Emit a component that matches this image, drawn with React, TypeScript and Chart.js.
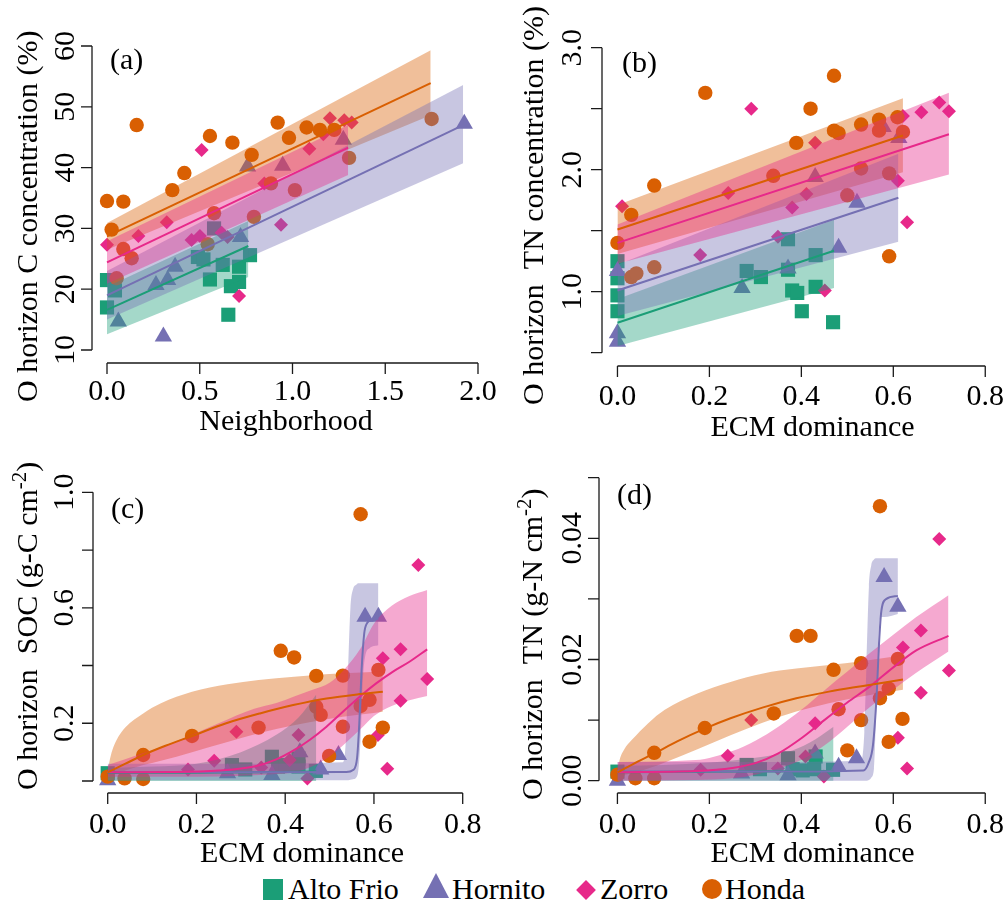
import React, { useEffect, useRef } from 'react';
import { Chart, registerables } from 'chart.js';

Chart.register(...registerables);

type Pt = [number, number];
type Bd = [number, number, number];

// ---------- sites ----------
const SITE_NAMES = ['Alto Frio', 'Hornito', 'Zorro', 'Honda'];
const SITE_COLORS = ['#1B9E77', '#7570B3', '#E7298A', '#D95F02'];
const SITE_FILLS = ['rgba(27,158,119,0.4)', 'rgba(117,112,179,0.4)', 'rgba(231,41,138,0.4)', 'rgba(217,95,2,0.4)'];
const SITE_SHAPES = ['rect', 'triangle', 'rectRot', 'circle'];
const SITE_RADII = [10, 10, 7, 7.2];

// ---------- panel (a): C concentration vs Neighborhood ----------
const aAltoFrio: Pt[] = [[0.0, 17.0], [0.0, 21.5], [0.043, 19.8], [0.49, 25.3], [0.52, 24.9], [0.555, 21.6], [0.577, 30.0], [0.624, 24.0], [0.654, 15.8], [0.668, 20.5], [0.712, 23.7], [0.712, 21.2], [0.771, 25.6]];
const aHornito: Pt[] = [[0.061, 14.7], [0.264, 20.7], [0.304, 12.2], [0.327, 21.5], [0.367, 23.7], [0.72, 28.6], [0.758, 40.2], [0.947, 40.3], [1.274, 44.6], [1.926, 47.2]];
const aZorro: Pt[] = [[0.0, 27.3], [0.169, 28.75], [0.322, 31.0], [0.456, 28.1], [0.501, 28.75], [0.51, 42.9], [0.618, 29.3], [0.65, 28.6], [0.712, 18.9], [0.848, 37.4], [0.938, 30.6], [1.091, 43.1], [1.166, 45.5], [1.202, 48.1], [1.279, 47.8], [1.319, 47.4]];
const aHonda: Pt[] = [[0.0, 34.5], [0.025, 29.8], [0.052, 21.8], [0.088, 34.4], [0.088, 26.6], [0.133, 25.1], [0.16, 47.0], [0.352, 36.3], [0.417, 39.1], [0.543, 27.4], [0.555, 45.2], [0.577, 32.5], [0.676, 44.1], [0.78, 42.1], [0.792, 31.9], [0.884, 37.4], [0.92, 47.4], [0.981, 44.9], [1.013, 36.3], [1.076, 46.6], [1.148, 46.2], [1.225, 46.2], [1.305, 41.6], [1.75, 48.0]];
const aFitAltoFrio: Pt[] = [[0, 16.6], [0.762, 27.1]];
const aFitHornito: Pt[] = [[0, 19.0], [1.92, 47.0]];
const aFitZorro: Pt[] = [[0, 24.4], [1.3, 43.3]];
const aFitHonda: Pt[] = [[0, 28.7], [1.745, 53.9]];
const aBandAltoFrio: Bd[] = [[0, 12.6, 20.4], [0.762, 22.0, 31.2]];
const aBandHornito: Bd[] = [[0, 15.0, 23.0], [1.92, 40.7, 53.6]];
const aBandZorro: Bd[] = [[0, 20.9, 27.9], [1.3, 38.8, 47.0]];
const aBandHonda: Bd[] = [[0, 26.5, 30.9], [1.745, 48.6, 59.3]];
const aXTicks = [0, 0.5, 1, 1.5, 2];
const aXLabels = ['0.0', '0.5', '1.0', '1.5', '2.0'];
const aYTicks = [10, 20, 30, 40, 50, 60];
const aYLabels = ['10', '20', '30', '40', '50', '60'];

// ---------- panel (b): TN concentration vs ECM dominance ----------
const bAltoFrio: Pt[] = [[0, 1.25], [0, 1.11], [0, 0.97], [0, 0.84], [0.281, 1.17], [0.312, 1.12], [0.371, 1.43], [0.371, 1.18], [0.38, 1.01], [0.391, 0.99], [0.401, 0.84], [0.431, 1.3], [0.431, 1.04], [0.469, 0.75]];
const bHornito: Pt[] = [[0, 1.17], [0, 0.66], [0, 0.59], [0.271, 1.03], [0.371, 1.19], [0.43, 1.94], [0.481, 1.36], [0.521, 1.73], [0.578, 2.35], [0.612, 2.26]];
const bZorro: Pt[] = [[0.01, 1.7], [0.18, 1.3], [0.241, 1.81], [0.291, 2.5], [0.349, 1.45], [0.38, 1.69], [0.411, 1.8], [0.43, 2.22], [0.451, 1.01], [0.61, 1.91], [0.621, 2.44], [0.63, 1.57], [0.661, 2.47], [0.7, 2.55], [0.721, 2.48]];
const bHonda: Pt[] = [[0, 1.4], [0.03, 1.63], [0.03, 1.12], [0.041, 1.15], [0.08, 1.2], [0.08, 1.87], [0.191, 2.63], [0.339, 1.95], [0.389, 2.22], [0.42, 2.5], [0.471, 2.77], [0.471, 2.32], [0.481, 2.3], [0.5, 1.79], [0.53, 2.37], [0.53, 2.01], [0.569, 2.41], [0.569, 2.32], [0.591, 1.97], [0.591, 1.29], [0.609, 2.43], [0.621, 2.31]];
const bFitAltoFrio: Pt[] = [[0, 0.746], [0.471, 1.336]];
const bFitHornito: Pt[] = [[0, 1.01], [0.611, 1.77]];
const bFitZorro: Pt[] = [[0, 1.4], [0.721, 2.29]];
const bFitHonda: Pt[] = [[0, 1.51], [0.621, 2.28]];
const bBandAltoFrio: Bd[] = [[0, 0.555, 0.94], [0.471, 1.03, 1.59]];
const bBandHornito: Bd[] = [[0, 0.8, 1.22], [0.611, 1.41, 2.13]];
const bBandZorro: Bd[] = [[0, 1.23, 1.55], [0.721, 1.96, 2.63]];
const bBandHonda: Bd[] = [[0, 1.31, 1.71], [0.621, 1.98, 2.585]];
const ecmXTicks = [0, 0.2, 0.4, 0.6, 0.8];
const ecmXLabels = ['0.0', '0.2', '0.4', '0.6', '0.8'];
const bYTicks = [0.5, 1.0, 1.5, 2.0, 2.5, 3.0];
const bYLabels = ['', '1.0', '', '2.0', '', '3.0'];

// ---------- panel (c): SOC vs ECM dominance ----------
const cAltoFrio: Pt[] = [[0.0, 0.027], [0.28, 0.055], [0.31, 0.04], [0.37, 0.084], [0.384, 0.05], [0.4, 0.055], [0.43, 0.078], [0.43, 0.05], [0.469, 0.035]];
const cHornito: Pt[] = [[0.0, 0.003], [0.27, 0.027], [0.37, 0.021], [0.433, 0.1], [0.48, 0.04], [0.52, 0.09], [0.58, 0.569], [0.61, 0.569]];
const cZorro: Pt[] = [[0.181, 0.04], [0.24, 0.07], [0.29, 0.171], [0.346, 0.047], [0.41, 0.073], [0.43, 0.159], [0.45, 0.009], [0.609, 0.159], [0.62, 0.425], [0.63, 0.042], [0.66, 0.456], [0.66, 0.278], [0.7, 0.748], [0.72, 0.353]];
const cHonda: Pt[] = [[0.0, 0.015], [0.038, 0.009], [0.08, 0.007], [0.08, 0.09], [0.19, 0.156], [0.34, 0.185], [0.39, 0.451], [0.42, 0.428], [0.47, 0.364], [0.47, 0.257], [0.48, 0.229], [0.499, 0.087], [0.53, 0.365], [0.53, 0.188], [0.57, 0.924], [0.57, 0.26], [0.59, 0.281], [0.59, 0.136], [0.61, 0.385], [0.62, 0.185]];
const cFitAltoFrio: Pt[] = [[0, 0.028], [0.2, 0.029], [0.35, 0.03], [0.47, 0.033]];
const cFitHornito: Pt[] = [[0, 0.03], [0.3, 0.03], [0.538, 0.031], [0.553, 0.038], [0.562, 0.08], [0.567, 0.2], [0.572, 0.38], [0.578, 0.51], [0.585, 0.548], [0.595, 0.558], [0.61, 0.563]];
const cFitZorro: Pt[] = [[0, 0.03], [0.15, 0.031], [0.25, 0.036], [0.33, 0.05], [0.38, 0.075], [0.418, 0.105], [0.455, 0.142], [0.493, 0.188], [0.53, 0.24], [0.568, 0.292], [0.605, 0.338], [0.643, 0.379], [0.68, 0.413], [0.72, 0.456]];
const cFitHonda: Pt[] = [[0, 0.03], [0.04, 0.06], [0.08, 0.09], [0.13, 0.122], [0.19, 0.156], [0.267, 0.2], [0.343, 0.234], [0.418, 0.263], [0.493, 0.286], [0.568, 0.301], [0.62, 0.309]];
const cBandAltoFrio: Bd[] = [[0, 0.0, 0.045], [0.1, 0.0, 0.05], [0.2, 0.0, 0.06], [0.3, 0.0, 0.1], [0.38, 0.0, 0.16], [0.43, 0.0, 0.22], [0.47, 0.0, 0.3]];
const cBandHornito: Bd[] = [[0, 0.003, 0.06], [0.3, 0.003, 0.06], [0.53, 0.003, 0.065], [0.537, 0.003, 0.15], [0.542, 0.003, 0.4], [0.547, 0.004, 0.6], [0.553, 0.006, 0.665], [0.56, 0.012, 0.68], [0.565, 0.04, 0.685], [0.57, 0.15, 0.685], [0.575, 0.35, 0.685], [0.58, 0.43, 0.685], [0.59, 0.46, 0.685], [0.61, 0.47, 0.685]];
const cBandZorro: Bd[] = [[0, 0.015, 0.055], [0.15, 0.015, 0.135], [0.25, 0.016, 0.2], [0.33, 0.02, 0.25], [0.38, 0.024, 0.27], [0.42, 0.03, 0.293], [0.46, 0.05, 0.315], [0.5, 0.085, 0.34], [0.535, 0.13, 0.39], [0.57, 0.18, 0.46], [0.6, 0.225, 0.545], [0.64, 0.26, 0.607], [0.68, 0.28, 0.641], [0.72, 0.294, 0.662]];
const cBandHonda: Bd[] = [[0, 0.028, 0.032], [0.005, 0.026, 0.075], [0.01, 0.025, 0.105], [0.02, 0.027, 0.142], [0.04, 0.036, 0.186], [0.08, 0.055, 0.234], [0.12, 0.07, 0.269], [0.19, 0.1, 0.309], [0.27, 0.135, 0.335], [0.34, 0.165, 0.35], [0.42, 0.193, 0.361], [0.49, 0.213, 0.37], [0.57, 0.23, 0.376], [0.62, 0.24, 0.379]];
const cYTicks = [0, 0.2, 0.4, 0.6, 0.8, 1.0];
const cYLabels = ['', '0.2', '', '0.6', '', '1.0'];

// ---------- panel (d): TN stock vs ECM dominance ----------
const dAltoFrio: Pt[] = [[0.0, 0.0015], [0.281, 0.0026], [0.31, 0.0019], [0.371, 0.0037], [0.381, 0.0019], [0.403, 0.0017], [0.428, 0.0019], [0.431, 0.004], [0.469, 0.0018]];
const dHornito: Pt[] = [[0.0, 0.0], [0.27, 0.0012], [0.371, 0.0009], [0.43, 0.0045], [0.481, 0.0023], [0.52, 0.0037], [0.58, 0.0336], [0.61, 0.0287]];
const dZorro: Pt[] = [[0.181, 0.0018], [0.24, 0.0041], [0.291, 0.01], [0.349, 0.002], [0.409, 0.004], [0.43, 0.0095], [0.449, 0.0007], [0.61, 0.0071], [0.621, 0.022], [0.63, 0.002], [0.66, 0.0248], [0.66, 0.0145], [0.7, 0.0399], [0.721, 0.0182]];
const dHonda: Pt[] = [[0.0, 0.001], [0.039, 0.0004], [0.08, 0.0004], [0.08, 0.0046], [0.19, 0.0087], [0.34, 0.0111], [0.39, 0.0239], [0.42, 0.0239], [0.47, 0.0183], [0.481, 0.0118], [0.5, 0.005], [0.53, 0.0194], [0.53, 0.01], [0.571, 0.0453], [0.571, 0.0136], [0.59, 0.0152], [0.59, 0.0064], [0.61, 0.0201], [0.62, 0.0102]];
const dFitAltoFrio: Pt[] = [[0, 0.0014], [0.25, 0.0015], [0.47, 0.0016]];
const dFitHornito: Pt[] = [[0, 0.0015], [0.3, 0.0015], [0.535, 0.0017], [0.546, 0.0029], [0.556, 0.006], [0.564, 0.0144], [0.569, 0.0227], [0.574, 0.028], [0.585, 0.03], [0.61, 0.0305]];
const dFitZorro: Pt[] = [[0, 0.0014], [0.17, 0.0016], [0.25, 0.0021], [0.3, 0.0029], [0.35, 0.0045], [0.4, 0.007], [0.45, 0.01], [0.5, 0.0129], [0.55, 0.0156], [0.6, 0.0187], [0.65, 0.0215], [0.72, 0.0239]];
const dFitHonda: Pt[] = [[0, 0.00138], [0.04, 0.003], [0.08, 0.0045], [0.13, 0.0065], [0.19, 0.0086], [0.246, 0.0103], [0.317, 0.0121], [0.389, 0.0136], [0.46, 0.0147], [0.531, 0.0156], [0.621, 0.0167]];
const dBandAltoFrio: Bd[] = [[0, 0.0, 0.0025], [0.1, 0.0, 0.0026], [0.2, 0.0, 0.003], [0.3, 0.0, 0.0038], [0.38, 0.0, 0.005], [0.43, 0.0, 0.0068], [0.47, 0.0, 0.0089]];
const dBandHornito: Bd[] = [[0, 0.0, 0.0031], [0.3, 0.0, 0.0031], [0.53, 0.0, 0.0033], [0.537, 0.0, 0.008], [0.542, 0.0, 0.02], [0.547, 0.0001, 0.032], [0.552, 0.0005, 0.0355], [0.558, 0.002, 0.0365], [0.563, 0.012, 0.0367], [0.568, 0.024, 0.0367], [0.573, 0.027, 0.0367], [0.58, 0.027, 0.0367], [0.61, 0.0275, 0.0367]];
const dBandZorro: Bd[] = [[0, 0.0, 0.0031], [0.17, 0.0001, 0.0034], [0.25, 0.0004, 0.0049], [0.3, 0.001, 0.0066], [0.35, 0.002, 0.0089], [0.4, 0.0034, 0.0117], [0.45, 0.0058, 0.0149], [0.5, 0.0089, 0.018], [0.55, 0.0122, 0.0211], [0.6, 0.015, 0.0241], [0.65, 0.0178, 0.027], [0.72, 0.0213, 0.0306]];
const dBandHonda: Bd[] = [[0, 0.0011, 0.0016], [0.005, 0.001, 0.0035], [0.015, 0.001, 0.0052], [0.031, 0.0012, 0.0067], [0.067, 0.002, 0.0095], [0.103, 0.003, 0.0117], [0.174, 0.0052, 0.0144], [0.246, 0.0075, 0.0163], [0.317, 0.0096, 0.0177], [0.389, 0.0114, 0.0185], [0.46, 0.0128, 0.0191], [0.531, 0.0139, 0.0197], [0.621, 0.015, 0.0207]];
const dYTicks = [0, 0.01, 0.02, 0.03, 0.04, 0.05];
const dYLabels = ['0.00', '', '0.02', '', '0.04', ''];

// ---------- rendering ----------
const FONT = '30px "Liberation Serif", "Times New Roman", serif';
const SUP_FONT = '21px "Liberation Serif", "Times New Roman", serif';
const BAND_DRAW_ORDER = [3, 0, 1, 2]; // Honda, Alto Frio, Hornito, Zorro (top)

interface Spec {
  left: number; top: number; w: number; h: number;
  pad: { left: number; right: number; top: number; bottom: number };
  xMin: number; xMax: number; yMin: number; yMax: number;
  pts: Pt[][]; fits: Pt[][]; bands: Bd[][]; smooth: boolean;
  xTicks: number[]; xLabels: string[]; xLabelOff: number;
  yTicks: number[]; yLabels: string[]; yLabelOff: number;
  xTitle: string; xTitleX: number; xTitleY: number;
  yTitle: string; yTitleSup?: string; yTitleEnd?: string; yTitleX: number; yTitleY: number;
  tag: string; tagX: number; tagY: number;
}

const specs: Spec[] = [
  {
    left: 0, top: 0, w: 504, h: 440,
    pad: { left: 92, right: 22, top: 40, bottom: 77 },
    xMin: -0.08086, xMax: 2.0216, yMin: 7.862, yMax: 60.987,
    pts: [aAltoFrio, aHornito, aZorro, aHonda],
    fits: [aFitAltoFrio, aFitHornito, aFitZorro, aFitHonda],
    bands: [aBandAltoFrio, aBandHornito, aBandZorro, aBandHonda], smooth: false,
    xTicks: aXTicks, xLabels: aXLabels, xLabelOff: 37,
    yTicks: aYTicks, yLabels: aYLabels, yLabelOff: 18,
    xTitle: 'Neighborhood', xTitleX: 286, xTitleY: 430,
    yTitle: 'O horizon C concentration (%)', yTitleX: 37, yTitleY: 402,
    tag: '(a)', tagX: 110, tagY: 69,
  },
  {
    left: 504, top: 0, w: 504, h: 440,
    pad: { left: 98, right: 4, top: 40, bottom: 74 },
    xMin: -0.03364, xMax: 0.82773, yMin: 0.391, yMax: 3.0631,
    pts: [bAltoFrio, bHornito, bZorro, bHonda],
    fits: [bFitAltoFrio, bFitHornito, bFitZorro, bFitHonda],
    bands: [bBandAltoFrio, bBandHornito, bBandZorro, bBandHonda], smooth: false,
    xTicks: ecmXTicks, xLabels: ecmXLabels, xLabelOff: 39,
    yTicks: bYTicks, yLabels: bYLabels, yLabelOff: 21,
    xTitle: 'ECM dominance', xTitleX: 308.5, xTitleY: 436,
    yTitle: 'O horizon  TN concentration (%)', yTitleX: 39, yTitleY: 405,
    tag: '(b)', tagX: 118, tagY: 72,
  },
  {
    left: 0, top: 440, w: 504, h: 430,
    pad: { left: 93, right: 24, top: 30, bottom: 77 },
    xMin: -0.03313, xMax: 0.83899, yMin: -0.04157, yMax: 1.07724,
    pts: [cAltoFrio, cHornito, cZorro, cHonda],
    fits: [cFitAltoFrio, cFitHornito, cFitZorro, cFitHonda],
    bands: [cBandAltoFrio, cBandHornito, cBandZorro, cBandHonda], smooth: true,
    xTicks: ecmXTicks, xLabels: ecmXLabels, xLabelOff: 40,
    yTicks: cYTicks, yLabels: cYLabels, yLabelOff: 20,
    xTitle: 'ECM dominance', xTitleX: 302, xTitleY: 422,
    yTitle: 'O horizon  SOC (g-C cm', yTitleSup: '-2', yTitleEnd: ')', yTitleX: 37, yTitleY: 350,
    tag: '(c)', tagX: 111, tagY: 78,
  },
  {
    left: 504, top: 440, w: 504, h: 430,
    pad: { left: 95, right: 4, top: 30, bottom: 77 },
    xMin: -0.04007, xMax: 0.82773, yMin: -0.00203, yMax: 0.05127,
    pts: [dAltoFrio, dHornito, dZorro, dHonda],
    fits: [dFitAltoFrio, dFitHornito, dFitZorro, dFitHonda],
    bands: [dBandAltoFrio, dBandHornito, dBandZorro, dBandHonda], smooth: true,
    xTicks: ecmXTicks, xLabels: ecmXLabels, xLabelOff: 40,
    yTicks: dYTicks, yLabels: dYLabels, yLabelOff: 18,
    xTitle: 'ECM dominance', xTitleX: 308.5, xTitleY: 422,
    yTitle: 'O horizon  TN (g-N cm', yTitleSup: '-2', yTitleEnd: ')', yTitleX: 38, yTitleY: 360,
    tag: '(d)', tagX: 113, tagY: 64,
  },
];

function makeAxesPlugin(s: Spec) {
  return {
    id: 'rAxes',
    afterDraw(chart: any) {
      const ctx: CanvasRenderingContext2D = chart.ctx;
      const ca = chart.chartArea;
      const xs = chart.scales.x;
      const ys = chart.scales.y;
      const TL = 11;
      ctx.save();
      ctx.strokeStyle = '#1a1a1a';
      ctx.lineWidth = 1.3;
      ctx.fillStyle = '#000';
      ctx.font = FONT;
      ctx.textBaseline = 'alphabetic';

      // x axis
      const xb = ca.bottom;
      const xp = s.xTicks.map((v) => xs.getPixelForValue(v));
      ctx.beginPath();
      ctx.moveTo(xp[0], xb);
      ctx.lineTo(xp[xp.length - 1], xb);
      xp.forEach((p) => { ctx.moveTo(p, xb); ctx.lineTo(p, xb + TL); });
      ctx.stroke();
      ctx.textAlign = 'center';
      xp.forEach((p, i) => { if (s.xLabels[i]) ctx.fillText(s.xLabels[i], p, xb + s.xLabelOff); });

      // y axis
      const yl = ca.left;
      const yp = s.yTicks.map((v) => ys.getPixelForValue(v));
      ctx.beginPath();
      ctx.moveTo(yl, yp[0]);
      ctx.lineTo(yl, yp[yp.length - 1]);
      yp.forEach((p) => { ctx.moveTo(yl, p); ctx.lineTo(yl - TL, p); });
      ctx.stroke();
      yp.forEach((p, i) => {
        if (!s.yLabels[i]) return;
        ctx.save();
        ctx.translate(yl - s.yLabelOff, p);
        ctx.rotate(-Math.PI / 2);
        ctx.textAlign = 'center';
        ctx.fillText(s.yLabels[i], 0, 0);
        ctx.restore();
      });

      // titles
      ctx.textAlign = 'center';
      ctx.fillText(s.xTitle, s.xTitleX, s.xTitleY);
      ctx.save();
      ctx.translate(s.yTitleX, s.yTitleY);
      ctx.rotate(-Math.PI / 2);
      ctx.textAlign = 'left';
      ctx.fillText(s.yTitle, 0, 0);
      if (s.yTitleSup) {
        let w = ctx.measureText(s.yTitle).width;
        ctx.font = SUP_FONT;
        ctx.fillText(s.yTitleSup, w, -11);
        w += ctx.measureText(s.yTitleSup).width;
        ctx.font = FONT;
        ctx.fillText(s.yTitleEnd || '', w, 0);
      }
      ctx.restore();

      // panel tag
      ctx.textAlign = 'left';
      ctx.fillText(s.tag, s.tagX, s.tagY);
      ctx.restore();
    },
  };
}

function buildConfig(s: Spec): any {
  const datasets: any[] = [];
  const curve = s.smooth ? { cubicInterpolationMode: 'monotone' } : { tension: 0 };
  // points (bottom layer)
  s.pts.forEach((pts, i) => {
    datasets.push({
      type: 'scatter',
      label: SITE_NAMES[i],
      data: pts.map(([x, y]) => ({ x, y })),
      pointStyle: SITE_SHAPES[i],
      pointRadius: SITE_RADII[i],
      pointHoverRadius: SITE_RADII[i],
      backgroundColor: SITE_COLORS[i],
      borderWidth: 0,
      order: 100 - i,
      clip: false,
    });
  });
  // confidence bands (middle layer)
  BAND_DRAW_ORDER.forEach((i, k) => {
    const band = s.bands[i];
    datasets.push({
      type: 'line',
      label: SITE_NAMES[i] + ' lower',
      data: band.map(([x, lo]) => ({ x, y: lo })),
      borderColor: 'rgba(0,0,0,0)',
      borderWidth: 0,
      pointRadius: 0,
      fill: false,
      order: 50 - k,
      ...curve,
    });
    datasets.push({
      type: 'line',
      label: SITE_NAMES[i] + ' upper',
      data: band.map(([x, , hi]) => ({ x, y: hi })),
      borderColor: 'rgba(0,0,0,0)',
      borderWidth: 0,
      pointRadius: 0,
      fill: '-1',
      backgroundColor: SITE_FILLS[i],
      order: 50 - k,
      ...curve,
    });
  });
  // fitted lines (top layer)
  s.fits.forEach((fit, i) => {
    datasets.push({
      type: 'line',
      label: SITE_NAMES[i] + ' fit',
      data: fit.map(([x, y]) => ({ x, y })),
      borderColor: SITE_COLORS[i],
      borderWidth: 2,
      pointRadius: 0,
      fill: false,
      order: 10 - i,
      ...curve,
    });
  });

  return {
    type: 'scatter',
    data: { datasets },
    options: {
      responsive: false,
      animation: false,
      devicePixelRatio: 1,
      events: [],
      layout: { padding: s.pad },
      scales: {
        x: { type: 'linear', min: s.xMin, max: s.xMax, display: false },
        y: { type: 'linear', min: s.yMin, max: s.yMax, display: false },
      },
      plugins: {
        legend: { display: false },
        tooltip: { enabled: false },
      },
    },
    plugins: [makeAxesPlugin(s)],
  };
}

function Panel({ spec }: { spec: Spec }) {
  const ref = useRef<HTMLCanvasElement>(null);
  useEffect(() => {
    if (!ref.current) return;
    const chart = new Chart(ref.current, buildConfig(spec));
    return () => chart.destroy();
  }, [spec]);
  return (
    <canvas
      ref={ref}
      width={spec.w}
      height={spec.h}
      style={{ position: 'absolute', left: spec.left, top: spec.top }}
    />
  );
}

const textStyle: React.CSSProperties = {
  position: 'absolute',
  top: 874,
  font: FONT,
  lineHeight: '30px',
  whiteSpace: 'pre',
  color: '#000',
};

function Legend() {
  return (
    <>
      <div style={{ position: 'absolute', left: 263, top: 879, width: 20, height: 21, background: SITE_COLORS[0] }} />
      <span style={{ ...textStyle, left: 288 }}>{SITE_NAMES[0]}</span>
      <div style={{ position: 'absolute', left: 423, top: 873, width: 0, height: 0, borderLeft: '13px solid transparent', borderRight: '13px solid transparent', borderBottom: `25px solid ${SITE_COLORS[1]}` }} />
      <span style={{ ...textStyle, left: 452 }}>{SITE_NAMES[1]}</span>
      <div style={{ position: 'absolute', left: 579, top: 882.5, width: 14, height: 14, background: SITE_COLORS[2], transform: 'rotate(45deg)' }} />
      <span style={{ ...textStyle, left: 600 }}>{SITE_NAMES[2]}</span>
      <div style={{ position: 'absolute', left: 702, top: 879, width: 20, height: 20, borderRadius: '50%', background: SITE_COLORS[3] }} />
      <span style={{ ...textStyle, left: 725 }}>{SITE_NAMES[3]}</span>
    </>
  );
}

export default function App() {
  return (
    <div style={{ position: 'absolute', left: 0, top: 0, width: 1008, height: 909, background: '#fff', overflow: 'hidden' }}>
      {specs.map((s, i) => (
        <Panel key={i} spec={s} />
      ))}
      <Legend />
    </div>
  );
}
